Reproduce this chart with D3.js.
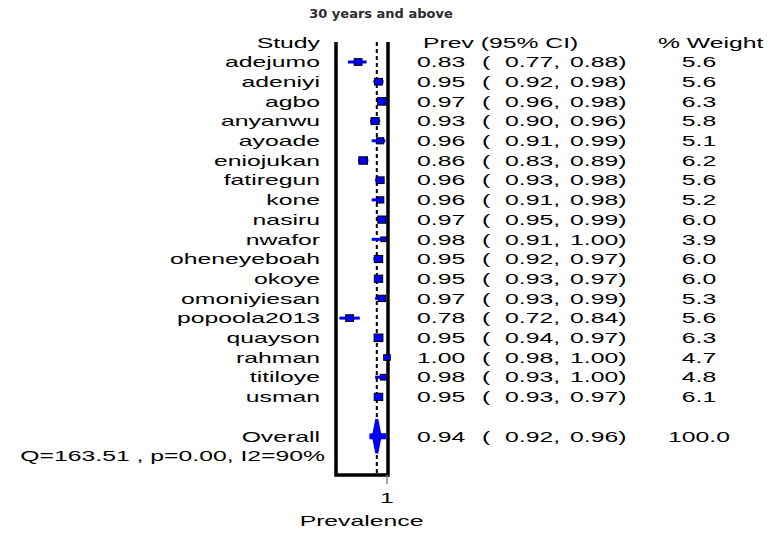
<!DOCTYPE html>
<html>
<head>
<meta charset="utf-8">
<script src="https://cdn.jsdelivr.net/npm/d3@7"></script>
<style>
  body { margin: 0; background: #fff; }
  svg { display: block; }
  text { font-family: "Liberation Sans", Arial, sans-serif; font-size: 15px; fill: #000; }
</style>
</head>
<body>
<div id="chart"></div>
<script>
// Données
const studies = ["adejumo", "adeniyi", "agbo", "anyanwu", "ayoade", "eniojukan", "fatiregun", "kone", "nasiru",
    "nwafor", "oheneyeboah", "okoye", "omoniyiesan", "popoola2013", "quayson", "rahman", "titiloye", "usman"];
const prev  = [0.83, 0.95, 0.97, 0.93, 0.96, 0.86, 0.96, 0.96, 0.97, 0.98, 0.95, 0.95, 0.97, 0.78, 0.95, 1.00, 0.98, 0.95];
const lower = [0.77, 0.92, 0.96, 0.90, 0.91, 0.83, 0.93, 0.91, 0.95, 0.91, 0.92, 0.93, 0.93, 0.72, 0.94, 0.98, 0.93, 0.93];
const upper = [0.88, 0.98, 0.98, 0.96, 0.99, 0.89, 0.98, 0.98, 0.99, 1.00, 0.97, 0.97, 0.99, 0.84, 0.97, 1.00, 1.00, 0.97];
const weight = [5.6, 5.6, 6.3, 5.8, 5.1, 6.2, 5.6, 5.2, 6.0, 3.9, 6.0, 6.0, 5.3, 5.6, 6.3, 4.7, 4.8, 6.1];
const overall = { name: "Overall", prev: 0.94, lower: 0.92, upper: 0.96, weight: 100.0 };
const heterogeneity = "Q=163.51 , p=0.00, I2=90%";
const xTicks = [1];

(function() {
    const width = 784, height = 535;
    const stretch = 1.65;   // la police d'origine est très large
    const f2 = d3.format(".2f");
    const f1 = d3.format(".1f");

    const svg = d3.select("#chart").append("svg")
        .attr("width", width)
        .attr("height", height);

    // Échelles
    const x = d3.scaleLinear().domain([0.70, 1.0]).range([336, 387]);
    const row = d3.scaleLinear().domain([0, 20]).range([62, 456]);
    const boxTop = 42, boxBottom = 475;

    // Texte étiré horizontalement
    function label(px, py, str, anchor) {
        return svg.append("text")
            .attr("transform", `translate(${px},${py}) scale(${stretch},1)`)
            .attr("dy", "0.35em")
            .attr("text-anchor", anchor || "start")
            .text(str);
    }

    // Titre
    svg.append("text")
        .attr("x", 381)
        .attr("y", 18)
        .attr("text-anchor", "middle")
        .style("font-family", "'DejaVu Sans', Verdana, sans-serif")
        .style("font-size", "13px")
        .style("font-weight", "bold")
        .style("fill", "#2e2a33")
        .text("30 years and above");

    // En-têtes
    label(320, 43, "Study", "end");
    label(423, 43, "Prev (95% CI)");
    label(658, 43, "% Weight");

    const rows = studies.map((s, i) => ({
        name: s, prev: prev[i], lower: lower[i], upper: upper[i], weight: weight[i], y: row(i)
    }));

    // Cadre (sans bord supérieur)
    svg.append("path")
        .attr("d", `M${x.range()[0]},${boxTop} V${boxBottom} H${x(1) + 1} V${boxTop}`)
        .attr("fill", "none")
        .attr("stroke", "#000")
        .attr("stroke-width", 3.5);

    // Ligne pointillée de l'estimation globale
    svg.append("line")
        .attr("x1", x(overall.prev)).attr("x2", x(overall.prev))
        .attr("y1", boxTop).attr("y2", boxBottom - 2)
        .attr("stroke", "#000")
        .attr("stroke-width", 2)
        .attr("stroke-dasharray", "4,3");

    // Intervalles de confiance
    svg.append("g").selectAll("line")
        .data(rows)
        .join("line")
        .attr("x1", d => x(d.lower))
        .attr("x2", d => x(d.upper))
        .attr("y1", d => d.y)
        .attr("y2", d => d.y)
        .attr("stroke", "#0000ff")
        .attr("stroke-width", 3);

    // Carrés pondérés
    svg.append("g").selectAll("rect")
        .data(rows)
        .join("rect")
        .attr("x", d => x(d.prev) - d.weight * 0.7)
        .attr("y", d => d.y - d.weight * 0.6)
        .attr("width", d => d.weight * 1.4)
        .attr("height", d => d.weight * 1.2)
        .attr("fill", "#0000ff")
        .attr("stroke", "#000")
        .attr("stroke-width", 1);

    // Losange global
    const oy = row(19);
    svg.append("polygon")
        .attr("points", [
            [x(overall.lower), oy], [x(overall.prev), oy - 17],
            [x(overall.upper), oy], [x(overall.prev), oy + 17]
        ].map(p => p.join(",")).join(" "))
        .attr("fill", "#0000ff")
        .attr("stroke", "#0000ff")
        .attr("stroke-width", 3);
    svg.append("line")
        .attr("x1", x(overall.lower) - 4).attr("x2", x(overall.upper) + 6)
        .attr("y1", oy).attr("y2", oy)
        .attr("stroke", "#0000ff")
        .attr("stroke-width", 6);

    // Colonnes de texte
    rows.concat([Object.assign({ y: oy }, overall)]).forEach(d => {
        label(320, d.y, d.name, "end");
        label(417, d.y, f2(d.prev));
        label(482, d.y, "(");
        label(505, d.y, f2(d.lower) + ",");
        label(570, d.y, f2(d.upper) + ")");
        label(699, d.y, f1(d.weight), "middle");
    });
    label(325, row(20), heterogeneity, "end");

    // Axe
    const axis = svg.append("g");
    xTicks.forEach(t => {
        axis.append("line")
            .attr("x1", x(t)).attr("x2", x(t))
            .attr("y1", boxBottom).attr("y2", boxBottom + 9)
            .attr("stroke", "#888")
            .attr("stroke-width", 1.5);
        label(x(t), 498, String(t), "middle");
    });
    label((x.range()[0] + x(1)) / 2, 521, "Prevalence", "middle");
})();
</script>
</body>
</html>
